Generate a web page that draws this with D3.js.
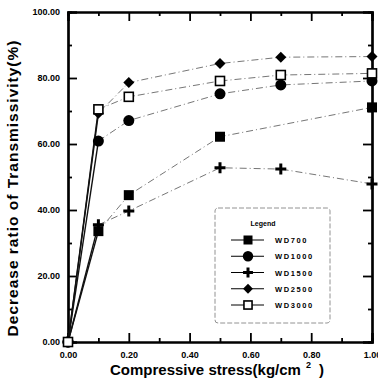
<!DOCTYPE html>
<html lang="en">
<head>
    <meta charset="utf-8" />
    <title>Decrease ratio of Transmissivity</title>
    <script src="https://d3js.org/d3.v7.min.js"></script>
    <style>
        body { margin: 0; background: #fff; }
        svg { display: block; font-family: "Liberation Sans", Arial, sans-serif; }
    </style>
</head>
<body>
    <script>
        var w = 378;
        var h = 389;

        // data
        var series = ["WD700", "WD1000", "WD1500", "WD2500", "WD3000"];
        var stressWD700 = [0, 0.1, 0.2, 0.5, 1.0];
        var ratioWD700 = [0, 33.6, 44.5, 62.2, 71.1];
        var stressOther = [0, 0.1, 0.2, 0.5, 0.7, 1.0];
        var ratioWD1000 = [0, 60.9, 67.1, 75.2, 77.9, 79.1];
        var ratioWD1500 = [0, 35.5, 39.7, 52.8, 52.4, 47.9];
        var ratioWD2500 = [0, 69.3, 78.6, 84.4, 86.3, 86.5];
        var ratioWD3000 = [0, 70.5, 74.3, 79.1, 80.9, 81.4];
        var xTicks = [0, 0.2, 0.4, 0.6, 0.8, 1.0];
        var yTicks = [0, 20, 40, 60, 80, 100];

        var pLeft = 68, pRight = 372, pTop = 12, pBottom = 342;

        var xScale = d3.scaleLinear().domain([0, 1]).range([pLeft, pRight]);
        var yScale = d3.scaleLinear().domain([0, 100]).range([pBottom, pTop]);

        var svg = d3.select("body").append("svg")
            .attr("width", w)
            .attr("height", h);

        function pts(xs, ys) {
            return xs.map(function (x, i) { return [x, ys[i]]; });
        }
        var data = [
            { name: "WD700", pts: pts(stressWD700, ratioWD700), mark: "fsquare" },
            { name: "WD1000", pts: pts(stressOther, ratioWD1000), mark: "circle" },
            { name: "WD1500", pts: pts(stressOther, ratioWD1500), mark: "plus" },
            { name: "WD2500", pts: pts(stressOther, ratioWD2500), mark: "diamond" },
            { name: "WD3000", pts: pts(stressOther, ratioWD3000), mark: "osquare" }
        ];

        // axes, ticks inward
        var bottomAxis = d3.axisBottom(xScale).tickValues(xTicks)
            .tickFormat(d3.format(".2f")).tickSize(-9).tickPadding(14);
        var gx = svg.append("g").attr("transform", "translate(0," + pBottom + ")").call(bottomAxis);
        var leftAxis = d3.axisLeft(yScale).tickValues(yTicks)
            .tickFormat(d3.format(".2f")).tickSize(-9).tickPadding(14);
        var gy = svg.append("g").attr("transform", "translate(" + pLeft + ",0)").call(leftAxis);
        svg.append("g").attr("transform", "translate(0," + pTop + ")")
            .call(d3.axisTop(xScale).tickValues(xTicks).tickFormat("").tickSize(-9));
        svg.append("g").attr("transform", "translate(" + pRight + ",0)")
            .call(d3.axisRight(yScale).tickValues(yTicks).tickFormat("").tickSize(-9));

        // minor ticks
        var xMinor = [0.1, 0.3, 0.5, 0.7, 0.9];
        var yMinor = [10, 30, 50, 70, 90];
        svg.append("g").attr("transform", "translate(0," + pBottom + ")")
            .call(d3.axisBottom(xScale).tickValues(xMinor).tickFormat("").tickSize(-4));
        svg.append("g").attr("transform", "translate(0," + pTop + ")")
            .call(d3.axisTop(xScale).tickValues(xMinor).tickFormat("").tickSize(-4));
        svg.append("g").attr("transform", "translate(" + pLeft + ",0)")
            .call(d3.axisLeft(yScale).tickValues(yMinor).tickFormat("").tickSize(-4));
        svg.append("g").attr("transform", "translate(" + pRight + ",0)")
            .call(d3.axisRight(yScale).tickValues(yMinor).tickFormat("").tickSize(-4));

        svg.selectAll(".domain").attr("stroke", "#000").attr("stroke-width", 2.2);
        svg.selectAll(".tick line").attr("stroke", "#000").attr("stroke-width", 1.8);
        svg.selectAll(".tick text")
            .attr("font-size", "9px")
            .attr("font-weight", "bold")
            .attr("fill", "#000");
        gy.selectAll(".tick text").attr("dx", "6").attr("dy", "0.32em");
        gx.selectAll(".tick text").attr("dy", "0.2em");

        // lines
        var line = d3.line()
            .x(function (d) { return xScale(d[0]); })
            .y(function (d) { return yScale(d[1]); });

        data.forEach(function (s) {
            svg.append("path")
                .attr("d", line(s.pts.slice(0, 2)))
                .attr("fill", "none")
                .attr("stroke", "#111")
                .attr("stroke-width", 1.4);
            svg.append("path")
                .attr("d", line(s.pts.slice(1)))
                .attr("fill", "none")
                .attr("stroke", "#666")
                .attr("stroke-width", 0.9)
                .attr("stroke-dasharray", "7,3,1,3");
        });

        function drawMark(g, type, x, y, scale) {
            scale = scale || 1;
            if (type === "fsquare") {
                g.append("rect").attr("x", x - 5 * scale).attr("y", y - 5 * scale)
                    .attr("width", 10 * scale).attr("height", 10 * scale).attr("fill", "#000");
            } else if (type === "osquare") {
                g.append("rect").attr("x", x - 4.5 * scale).attr("y", y - 4.5 * scale)
                    .attr("width", 9 * scale).attr("height", 9 * scale)
                    .attr("fill", "#fff").attr("stroke", "#000").attr("stroke-width", 1.6);
            } else if (type === "circle") {
                g.append("circle").attr("cx", x).attr("cy", y).attr("r", 5.5 * scale).attr("fill", "#000");
            } else if (type === "diamond") {
                var r = 5.5 * scale;
                g.append("path")
                    .attr("d", "M" + x + "," + (y - r) + "L" + (x + r) + "," + y + "L" + x + "," + (y + r) + "L" + (x - r) + "," + y + "Z")
                    .attr("fill", "#000");
            } else if (type === "plus") {
                var p = 5.5 * scale;
                g.append("path")
                    .attr("d", "M" + (x - p) + "," + y + "H" + (x + p) + "M" + x + "," + (y - p) + "V" + (y + p))
                    .attr("stroke", "#000").attr("stroke-width", 3);
            }
        }

        var marks = svg.append("g");
        data.forEach(function (s) {
            s.pts.forEach(function (d) {
                drawMark(marks, s.mark, xScale(d[0]), yScale(d[1]));
            });
        });

        // legend
        var lg = svg.append("g");
        lg.append("rect")
            .attr("x", 215).attr("y", 208).attr("width", 115).attr("height", 115)
            .attr("rx", 3)
            .attr("fill", "#fff")
            .attr("stroke", "#777")
            .attr("stroke-width", 0.8)
            .attr("stroke-dasharray", "5,2");
        lg.append("text")
            .attr("x", 263).attr("y", 226)
            .attr("text-anchor", "middle")
            .attr("font-size", "7px")
            .attr("font-weight", "bold")
            .text("Legend");
        var legendY = d3.scalePoint().domain(series).range([240, 305]);
        data.forEach(function (s) {
            var y = legendY(s.name);
            lg.append("line")
                .attr("x1", 231).attr("x2", 264).attr("y1", y).attr("y2", y)
                .attr("stroke", "#000").attr("stroke-width", 1);
            drawMark(lg, s.mark, 248, y, s.mark === "circle" ? 0.95 : 0.9);
            lg.append("text")
                .attr("x", 275).attr("y", y + 3)
                .attr("font-size", "7.5px")
                .attr("font-weight", "bold")
                .attr("letter-spacing", "1.6px")
                .text(s.name);
        });

        // axis titles
        var xt = svg.append("text")
            .attr("x", 110).attr("y", 375)
            .attr("font-size", "15px")
            .attr("font-weight", "bold")
            .text("Compressive stress(kg/cm");
        xt.append("tspan").attr("font-size", "9px").attr("dy", "-7").attr("dx", "5").text("2");
        xt.append("tspan").attr("dy", "7").attr("dx", "8").text(")");

        svg.append("text")
            .attr("transform", "translate(18,188) rotate(-90)")
            .attr("text-anchor", "middle")
            .attr("font-size", "15.5px")
            .attr("font-weight", "bold")
            .attr("letter-spacing", "1px")
            .text("Decrease ratio of Transmissivity(%)");
    </script>
</body>
</html>
